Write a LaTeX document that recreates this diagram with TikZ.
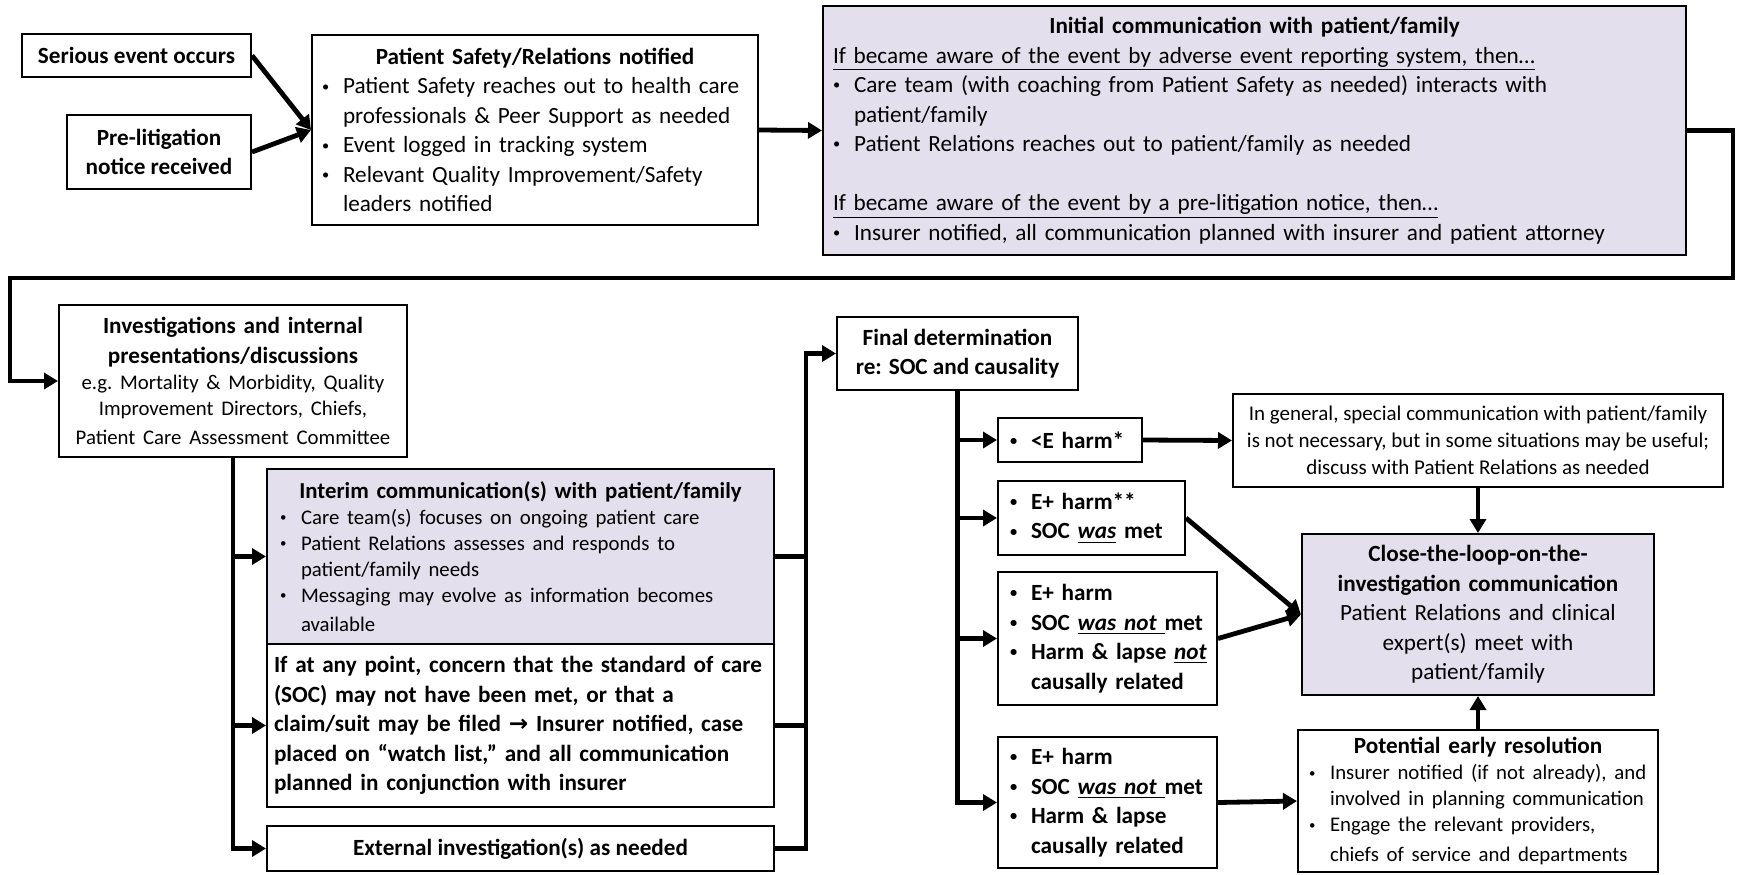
\documentclass[tikz,border=0pt]{standalone}
\usepackage{fontspec}
\setmainfont{Carlito}
\newfontfamily\arrowfont{DejaVu Sans}
\usepackage{graphicx}
\usepackage{tikz}
\usetikzlibrary{arrows.meta, positioning, calc}
\definecolor{lavender}{HTML}{E4DFEC}
\newcommand{\fbig}{\fontsize{11.6}{14.75}\selectfont}
\newcommand{\fsmall}{\fontsize{10.4}{13}\selectfont}
\newcommand{\bdot}{\raisebox{0.12em}{\scalebox{0.62}{\textbullet}}}
\newcommand{\bt}[1]{\mbox{\makebox[10.5pt][l]{\bdot}#1}}
\newcommand{\bc}[1]{\mbox{\hspace*{10.5pt}#1}}
\newcommand{\ctitle}[1]{\hspace*{\fill}\textbf{#1}\hspace*{\fill}\mbox{}}

\begin{document}
\begin{tikzpicture}[
	x=0.5pt, y=-0.5pt,
	box/.style={
		rectangle,
		draw,
		line width=1pt,
		inner sep=0pt,
		align=center,
		font=\fbig
	},
	listbox/.style={
		box,
		align=left
	},
	softbox/.style={fill=lavender},
	conn/.style={
		line width=2.4pt,
		-{Triangle[length=7pt, width=8pt]}
	},
	wire/.style={line width=2.4pt}]
	\useasboundingbox (0,0) rectangle (1741,874);
	% Start
	\node[box, minimum width=114.5pt, minimum height=21.5pt] (serious) at (136.5,55.5)
		{\textbf{Serious event occurs}};
	\node[box, minimum width=92pt, minimum height=37pt] (prelit) at (159,152)
		{\textbf{Pre-litigation}\\\textbf{notice received}};
	\node[listbox, minimum width=223pt, minimum height=95pt, text width=213pt] (psafety) at (535,130)
		{\ctitle{Patient Safety/Relations notified}\\
		 \bt{Patient Safety reaches out to health care}\\
		 \bc{professionals \& Peer Support as needed}\\
		 \bt{Event logged in tracking system}\\
		 \bt{Relevant Quality Improvement/Safety}\\
		 \bc{leaders notified}};
	\node[listbox, softbox, minimum width=431.5pt, minimum height=124.5pt, text width=421.5pt] (initial) at (1254.5,130.5)
		{\ctitle{Initial communication with patient/family}\\
		 \mbox{\underline{If became aware of the event by adverse event reporting system, then…}}\\
		 \bt{Care team (with coaching from Patient Safety as needed) interacts with}\\
		 \bc{patient/family}\\
		 \bt{Patient Relations reaches out to patient/family as needed}\\
		 \mbox{}\\
		 \mbox{\underline{If became aware of the event by a pre-litigation notice, then…}}\\
		 \bt{Insurer notified, all communication planned with insurer and patient attorney}};
	% Investigation
	\node[box, minimum width=174pt, minimum height=76pt, text width=170pt] (invest) at (233,381)
		{\textbf{Investigations and internal}\\\textbf{presentations/discussions}\\
		 \fsmall e.g.\ Mortality \& Morbidity, Quality\\
		 Improvement Directors, Chiefs,\\
		 Patient Care Assessment Committee};
	\node[listbox, softbox, minimum width=253.5pt, minimum height=87.5pt, text width=240.5pt] (interim) at (520.5,556.5)
		{{\fontsize{11.4}{14}\selectfont\ctitle{Interim communication(s) with patient/family}}\\
		 \fsmall\bt{Care team(s) focuses on ongoing patient care}\\
		 \bt{Patient Relations assesses and responds to}\\
		 \bc{patient/family needs}\\
		 \bt{Messaging may evolve as information becomes}\\
		 \bc{available}};
	\node[listbox, minimum width=253.5pt, minimum height=81.5pt, text width=246.5pt, font=\fbig\bfseries] (ifany) at (520.5,725.5)
		{\mbox{If at any point, concern that the standard of care}\\
		 \mbox{(SOC) may not have been met, or that a}\\
		 \mbox{claim/suit may be filed {\arrowfont →} Insurer notified, case}\\
		 \mbox{placed on “watch list,” and all communication}\\
		 \mbox{planned in conjunction with insurer}};
	\node[box, minimum width=253.5pt, minimum height=22.5pt] (external) at (520.5,848.5)
		{\textbf{External investigation(s) as needed}};
	% Determination
	\node[box, minimum width=120.5pt, minimum height=36.5pt] (final) at (957.5,353.5)
		{\textbf{Final determination}\\\textbf{re: SOC and causality}};
	\node[listbox, minimum width=72pt, minimum height=22pt, text width=60pt, font=\fbig\bfseries] (h1) at (1070,440)
		{\bt{<E harm*}};
	\node[listbox, minimum width=93.5pt, minimum height=37pt, text width=81.5pt, font=\fbig\bfseries] (h2) at (1091.5,518)
		{\bt{E+ harm**}\\
		 \bt{SOC \underline{\textit{was}} met}};
	\node[listbox, minimum width=109.5pt, minimum height=66.5pt, text width=97.5pt, font=\fbig\bfseries] (h3) at (1107.5,638.5)
		{\bt{E+ harm}\\
		 \bt{SOC \underline{\textit{was not}\ }met}\\
		 \bt{Harm \& lapse \underline{\textit{not}}}\\
		 \bc{causally related}};
	\node[listbox, minimum width=109.5pt, minimum height=65.5pt, text width=97.5pt, font=\fbig\bfseries] (h4) at (1107.5,802.5)
		{\bt{E+ harm}\\
		 \bt{SOC \underline{\textit{was not}\ }met}\\
		 \bt{Harm \& lapse}\\
		 \bc{causally related}};
	% Outcomes
	\node[box, minimum width=245pt, minimum height=46.5pt, font=\fontsize{10.5}{13.5}\selectfont] (general) at (1478,440.5)
		{In general, special communication with patient/family\\
		 is not necessary, but in some situations may be useful;\\
		 discuss with Patient Relations as needed};
	\node[box, softbox, minimum width=176pt, minimum height=80.5pt, text width=170pt] (close) at (1478,614.5)
		{\textbf{Close-the-loop-on-the-}\\\textbf{investigation communication}\\
		 Patient Relations and clinical\\
		 expert(s) meet with\\
		 patient/family};
	\node[listbox, minimum width=180pt, minimum height=71pt, text width=169pt] (early) at (1478,801)
		{\ctitle{Potential early resolution}\\
		 \fsmall\bt{Insurer notified (if not already), and}\\
		 \bc{involved in planning communication}\\
		 \bt{Engage the relevant providers,}\\
		 \bc{chiefs of service and departments}};
	% Connectors
	\draw[conn] (serious.east) -- (psafety.west);
	\draw[conn] (prelit.east) -- (psafety.west);
	\draw[conn] (psafety.east) -- (initial.west);
	\coordinate (loopR) at (1733,278);
	\coordinate (loopL) at (10,278);
	\draw[conn] (initial.east) -| (loopR) -- (loopL) |- (invest.west);
	\draw[conn] (invest.south) |- (external.west);
	\foreach \b in {interim, ifany}
		\draw[conn] (invest.south |- \b.west) -- (\b.west);
	\coordinate (bus) at (806,354);
	\foreach \b in {interim, ifany}
		\draw[wire] (\b.east) -- (\b.east -| bus);
	\draw[conn] (external.east) -| (final.west -| bus) -- (final.west);
	\draw[conn] (final.south) |- (h4.west);
	\foreach \h in {h1, h2, h3}
		\draw[conn] (final.south |- \h.west) -- (\h.west);
	\draw[conn] (h1.east) -- (general.west);
	\draw[conn] (h2.east) -- (close.west);
	\draw[conn] (h3.east) -- (close.west);
	\draw[conn] (h4.east) -- (early.west);
	\draw[conn] (general.south) -- (close.north);
	\draw[conn] (early.north) -- (close.south);
\end{tikzpicture}
\end{document}
